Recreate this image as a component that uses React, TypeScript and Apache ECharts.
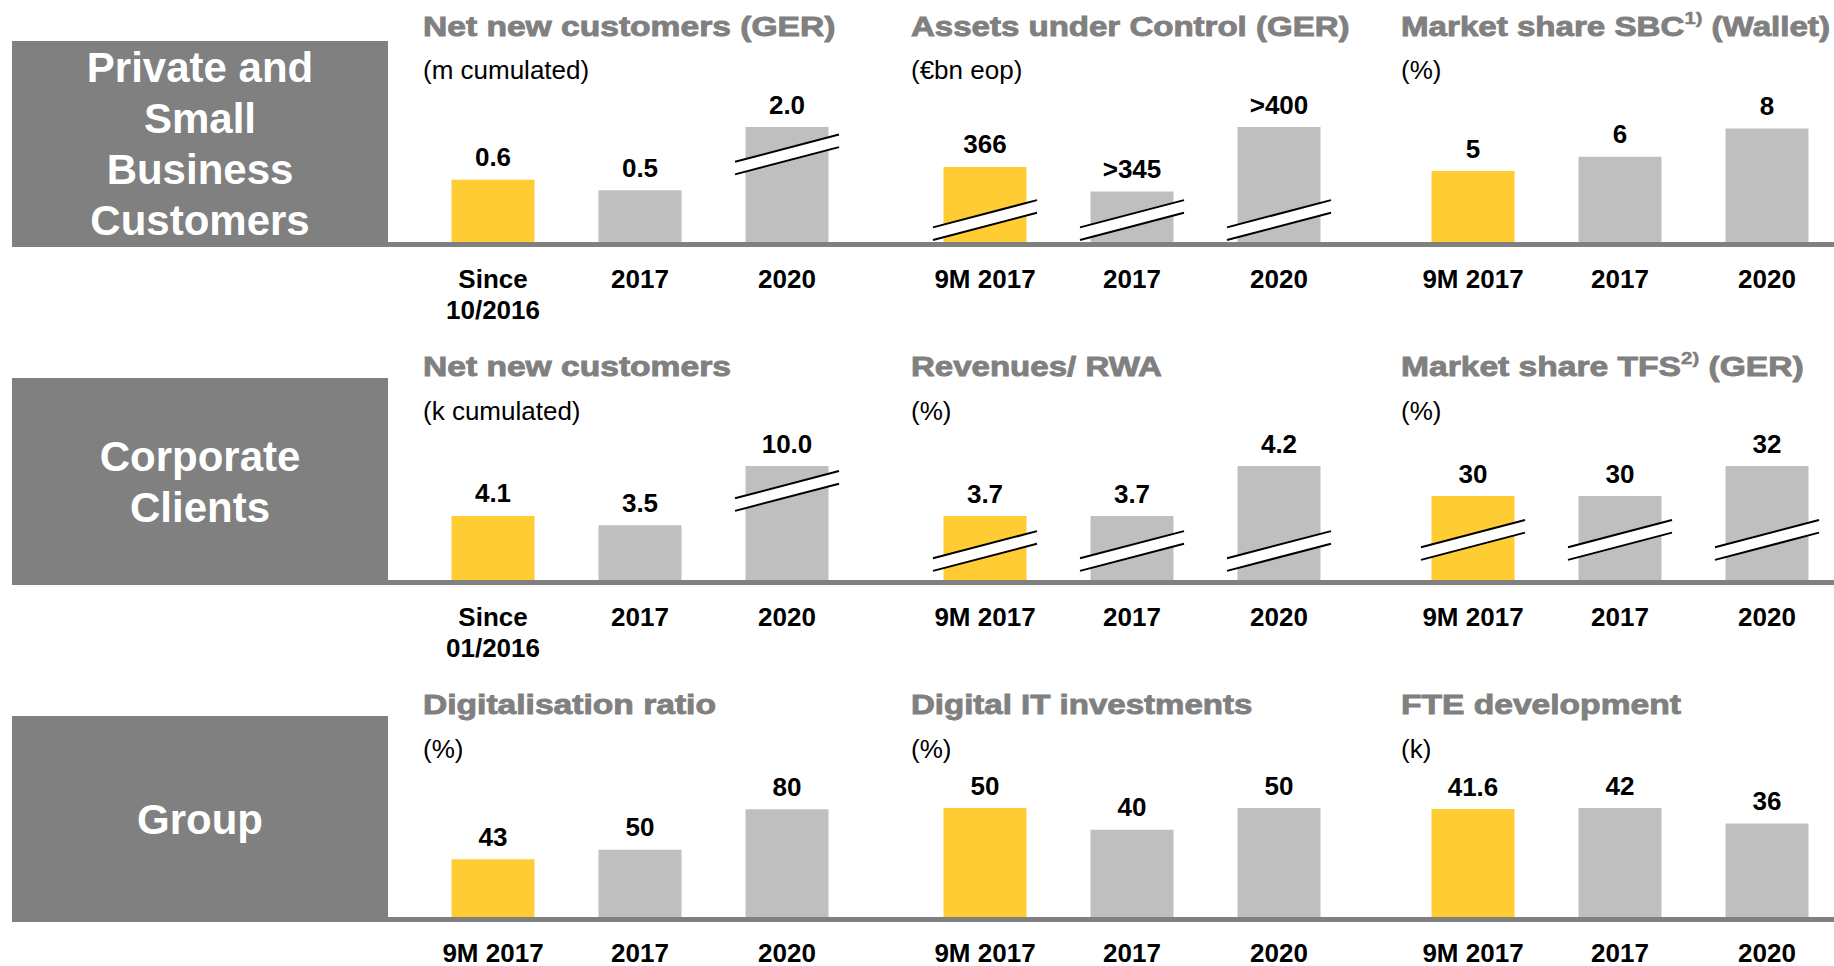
import React, { useEffect, useRef } from 'react';
import * as echarts from 'echarts';

// ---------- data ----------
const segmentNames = ['Private and\nSmall\nBusiness\nCustomers', 'Corporate\nClients', 'Group'];

const catsSince10 = ['Since\n10/2016', '2017', '2020'];
const catsSince01 = ['Since\n01/2016', '2017', '2020'];
const cats9M = ['9M 2017', '2017', '2020'];

const nnCustomersGer = [0.6, 0.5, 2.0];
const nnCustomersGerLabels = ['0.6', '0.5', '2.0'];
const assetsUnderControl = [366, 345, 400];
const assetsUnderControlLabels = ['366', '>345', '>400'];
const marketShareSBC = [5, 6, 8];
const marketShareSBCLabels = ['5', '6', '8'];

const nnCustomersCC = [4.1, 3.5, 10.0];
const nnCustomersCCLabels = ['4.1', '3.5', '10.0'];
const revenuesRWA = [3.7, 3.7, 4.2];
const revenuesRWALabels = ['3.7', '3.7', '4.2'];
const marketShareTFS = [30, 30, 32];
const marketShareTFSLabels = ['30', '30', '32'];

const digitalisationRatio = [43, 50, 80];
const digitalisationRatioLabels = ['43', '50', '80'];
const digitalITInvest = [50, 40, 50];
const digitalITInvestLabels = ['50', '40', '50'];
const fteDevelopment = [41.6, 42, 36];
const fteDevelopmentLabels = ['41.6', '42', '36'];

// visible value range of each (broken) axis
const axisRanges = [
  [0, 1.11], [302, 400], [0, 8.1],
  [0, 7.3], [3.06, 4.2], [24.4, 32],
  [0, 81], [0, 50], [0, 42],
];
// axis breaks: [category index, value where the break marker sits]
const axisBreaks = [
  [[2, 0.845]], [[0, 320.7], [1, 320.7], [2, 320.7]], [],
  [[2, 5.7]], [[0, 3.35], [1, 3.35], [2, 3.35]], [[0, 27.07], [1, 27.07], [2, 27.07]],
  [], [], [],
];

const panelTitles = [
  'Net new customers (GER)', 'Assets under Control (GER)', '{t|Market share SBC}{s|1)}{t| (Wallet)}',
  'Net new customers', 'Revenues/ RWA', '{t|Market share TFS}{s|2)}{t| (GER)}',
  'Digitalisation ratio', 'Digital IT investments', 'FTE development',
];
const panelUnits = [
  '(m cumulated)', '(€bn eop)', '(%)',
  '(k cumulated)', '(%)', '(%)',
  '(%)', '(%)', '(k)',
];
const panelCats = [catsSince10, cats9M, cats9M, catsSince01, cats9M, cats9M, cats9M, cats9M, cats9M];
const panelValues = [
  nnCustomersGer, assetsUnderControl, marketShareSBC,
  nnCustomersCC, revenuesRWA, marketShareTFS,
  digitalisationRatio, digitalITInvest, fteDevelopment,
];
const panelLabels = [
  nnCustomersGerLabels, assetsUnderControlLabels, marketShareSBCLabels,
  nnCustomersCCLabels, revenuesRWALabels, marketShareTFSLabels,
  digitalisationRatioLabels, digitalITInvestLabels, fteDevelopmentLabels,
];

// ---------- layout / style ----------
const W = 1834;
const H = 966;
const YELLOW = '#FFCC33';
const BAR_GRAY = '#BFBFBF';
const DARK = '#808080';
const FONT = '"Liberation Sans", Arial, Helvetica, sans-serif';
const COL_LEFT = [419.5, 911.5, 1399.5];
const GRID_W = 441;
const ROW_TOP = [127, 466, 808];
const ROW_AXIS = [242, 580, 917];
const BOX_Y = [[41, 247], [378, 585], [716, 922]];
const TITLE_X = [423, 911, 1401];
const TITLE_Y = [26, 366, 704];
const UNIT_Y = [70, 411, 749];
const TITLE_SCALE = [1.2, 1.18, 1.183, 1.2, 1.18, 1.2, 1.2, 1.18, 1.2];

function renderBreak(params: any, api: any) {
  const p = api.coord([api.value(0), api.value(1)]);
  const hw = 52;
  const dy = 13.6;
  const g = 6.3;
  const x1 = p[0] - hw;
  const x2 = p[0] + hw;
  const cy = p[1];
  return {
    type: 'group',
    children: [
      {
        type: 'polygon',
        shape: { points: [[x1, cy + dy - g], [x2, cy - dy - g], [x2, cy - dy + g], [x1, cy + dy + g]] },
        style: { fill: '#ffffff' },
      },
      { type: 'line', shape: { x1, y1: cy + dy - g, x2, y2: cy - dy - g }, style: { stroke: '#000', lineWidth: 2 } },
      { type: 'line', shape: { x1, y1: cy + dy + g, x2, y2: cy - dy + g }, style: { stroke: '#000', lineWidth: 2 } },
    ],
  };
}

export default function App() {
  const ref = useRef<HTMLDivElement>(null);
  useEffect(() => {
    const chart = echarts.init(ref.current as HTMLDivElement, null, { renderer: 'svg' });
    const grid: any[] = [];
    const xAxis: any[] = [];
    const yAxis: any[] = [];
    const series: any[] = [];
    const graphic: any[] = [];

    for (let i = 0; i < 9; i++) {
      const r = Math.floor(i / 3);
      const c = i % 3;
      const lastRow = r === 2;
      grid.push({
        left: COL_LEFT[c], top: ROW_TOP[r], width: GRID_W, height: ROW_AXIS[r] - ROW_TOP[r],
        containLabel: false, outerBoundsMode: 'none',
      });
      xAxis.push({
        gridIndex: i, type: 'category', data: panelCats[i],
        axisLine: { show: false }, axisTick: { show: false }, splitLine: { show: false },
        axisLabel: {
          interval: 0, margin: lastRow ? 22.5 : 21, fontSize: 26, fontWeight: 'bold', color: '#000',
          fontFamily: FONT, lineHeight: lastRow ? 26 : 31,
        },
      });
      yAxis.push({ gridIndex: i, type: 'value', min: axisRanges[i][0], max: axisRanges[i][1], show: false });
      const labels = panelLabels[i];
      series.push({
        type: 'bar', xAxisIndex: i, yAxisIndex: i, barWidth: 83, clip: true,
        data: panelValues[i].map((v, j) => ({ value: v, itemStyle: { color: j === 0 ? YELLOW : BAR_GRAY } })),
        label: {
          show: true, position: 'top', distance: 9.5, fontSize: 26, lineHeight: 26, fontWeight: 'bold',
          color: '#000', fontFamily: FONT,
          formatter: (p: any) => labels[p.dataIndex],
        },
      });
      if (axisBreaks[i].length) {
        series.push({
          type: 'custom', xAxisIndex: i, yAxisIndex: i, z: 5, silent: true,
          data: axisBreaks[i], renderItem: renderBreak,
        });
      }
      // titles
      graphic.push({
        type: 'text', x: TITLE_X[c], y: TITLE_Y[r], scaleX: TITLE_SCALE[i], silent: true,
        style: {
          text: panelTitles[i], fill: DARK, fontSize: 28, fontWeight: 'bold', fontFamily: FONT,
          stroke: DARK, lineWidth: 0.9,
          align: 'left', verticalAlign: 'middle', textAlign: 'left', textVerticalAlign: 'middle',
          rich: {
            t: { fontSize: 28, fontWeight: 'bold', fontFamily: FONT, fill: DARK, stroke: DARK, lineWidth: 0.9, lineHeight: 32 },
            s: { fontSize: 17, fontWeight: 'bold', fontFamily: FONT, fill: DARK, stroke: DARK, lineWidth: 0.5, lineHeight: 18, verticalAlign: 'top' },
          },
        },
      });
      graphic.push({
        type: 'text', x: TITLE_X[c], y: UNIT_Y[r], silent: true,
        style: {
          text: panelUnits[i], fill: '#000', fontSize: 26, fontFamily: FONT,
          align: 'left', verticalAlign: 'middle', textAlign: 'left', textVerticalAlign: 'middle',
        },
      });
    }

    for (let r = 0; r < 3; r++) {
      graphic.push({
        type: 'rect', silent: true,
        shape: { x: 12, y: BOX_Y[r][0], width: 376, height: BOX_Y[r][1] - BOX_Y[r][0] },
        style: { fill: DARK },
      });
      graphic.push({
        type: 'rect', silent: true,
        shape: { x: 388, y: ROW_AXIS[r], width: W - 388, height: 5 },
        style: { fill: DARK },
      });
      graphic.push({
        type: 'text', x: 200, y: (BOX_Y[r][0] + BOX_Y[r][1]) / 2, silent: true,
        style: {
          text: segmentNames[r], fill: '#fff', fontSize: 42, fontWeight: 'bold', fontFamily: FONT,
          lineHeight: 51, align: 'center', verticalAlign: 'middle', textAlign: 'center', textVerticalAlign: 'middle',
        },
      });
    }

    chart.setOption({
      animation: false,
      backgroundColor: '#ffffff',
      grid, xAxis, yAxis, series, graphic,
    });
    return () => chart.dispose();
  }, []);
  return (
    <div
      ref={ref}
      style={{ position: 'fixed', left: 0, top: 0, width: W, height: H, background: '#fff' }}
    />
  );
}
